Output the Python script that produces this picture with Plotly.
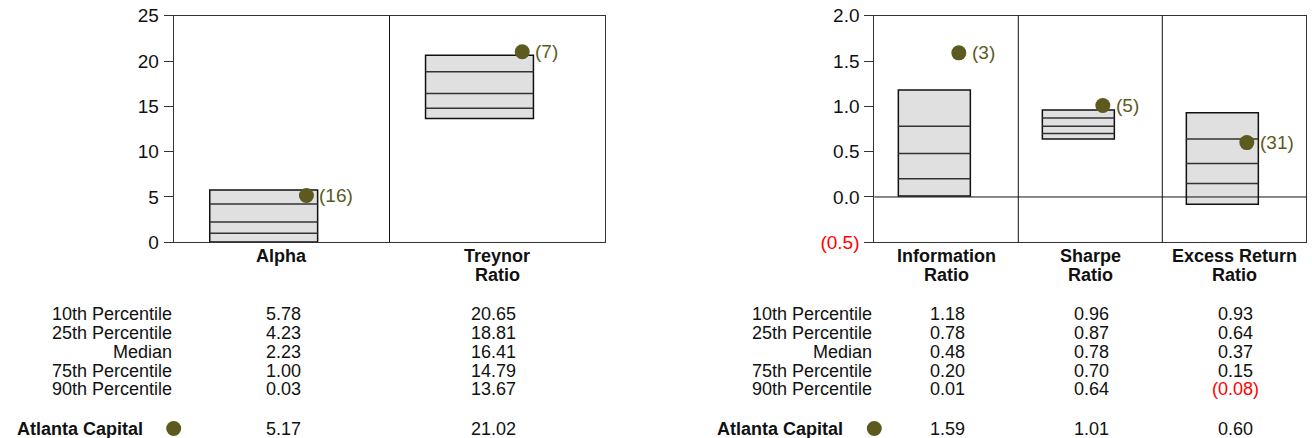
import plotly.graph_objects as go

# left panel
left_names = ["Alpha", "Treynor<br>Ratio"]
left_p10 = [5.78, 20.65]
left_p25 = [4.23, 18.81]
left_med = [2.23, 16.41]
left_p75 = [1.00, 14.79]
left_p90 = [0.03, 13.67]
left_fund = [5.17, 21.02]
left_rank = [16, 7]

# right panel
right_names = ["Information<br>Ratio", "Sharpe<br>Ratio", "Excess Return<br>Ratio"]
right_p10 = [1.18, 0.96, 0.93]
right_p25 = [0.78, 0.87, 0.64]
right_med = [0.48, 0.78, 0.37]
right_p75 = [0.20, 0.70, 0.15]
right_p90 = [0.01, 0.64, -0.08]
right_fund = [1.59, 1.01, 0.60]
right_rank = [3, 5, 31]

row_labels = ["10th Percentile", "25th Percentile", "Median", "75th Percentile", "90th Percentile"]
fund_name = "Atlanta Capital"

left_yticks = [0, 5, 10, 15, 20, 25]
right_yticks = [-0.5, 0.0, 0.5, 1.0, 1.5, 2.0]

W, H = 1312, 438
OLIVE = "#5c5a1e"
FONT = "Liberation Sans, Arial, sans-serif"
FS = 19      # axis ticks and rank labels
FS_T = 18    # table and category labels


def px_x(x):
    return x / W


def py(y):
    return 1 - y / H


L_DOM = [px_x(173.7), px_x(605.3)]
R_DOM = [px_x(874.3), px_x(1306.3)]
Y_DOM = [py(242.3), py(15.7)]
LABEL_Y = [256, 274.5]
ROW_Y = [314, 332.7, 351.7, 370.7, 389.3]
FUND_Y = 428.5


def fmt(v, nd=2):
    s = f"{abs(v):.{nd}f}"
    return f"({s})" if v < 0 else s


fig = go.Figure()
annotations = []
shapes = []


def panel(xa, ya, names, p10, p25, med, p75, p90, fund, rank, dot_off, dom):
    n = len(names)
    xs = list(range(n))
    fig.add_trace(go.Bar(
        x=xs, y=[a - b for a, b in zip(p10, p90)], base=p90,
        width=0.5, offset=-0.333,
        marker=dict(color="#e0e0e0", line=dict(color="#111", width=1.5)),
        xaxis=xa, yaxis=ya, hoverinfo="skip", showlegend=False))
    lx, ly = [], []
    for i in xs:
        for v in (p25[i], med[i], p75[i]):
            lx += [i - 0.333, i + 0.167, None]
            ly += [v, v, None]
    fig.add_trace(go.Scatter(
        x=lx, y=ly, mode="lines", line=dict(color="#333", width=1.5),
        xaxis=xa, yaxis=ya, hoverinfo="skip", showlegend=False))
    fig.add_trace(go.Scatter(
        x=[i + dot_off for i in xs], y=fund, mode="markers",
        marker=dict(color=OLIVE, size=15),
        xaxis=xa, yaxis=ya, hoverinfo="skip", showlegend=False))
    xr = "x" if xa == "x" else "x2"
    yr = "y" if ya == "y" else "y2"
    for i in xs:
        annotations.append(dict(
            x=i + dot_off, y=fund[i], xref=xr, yref=yr, text=f"({rank[i]})",
            showarrow=False, xanchor="left", xshift=11,
            font=dict(family=FONT, size=FS, color=OLIVE)))
    # category labels, one annotation per line
    for i, name in enumerate(names):
        for k, part in enumerate(name.split("<br>")):
            annotations.append(dict(
                x=i, y=py(LABEL_Y[k]), xref=xr, yref="paper", text=f"<b>{part}</b>",
                showarrow=False, xanchor="center", yanchor="middle",
                font=dict(family=FONT, size=FS_T, color="#111")))
    # dividers between categories
    for i in range(n - 1):
        shapes.append(dict(type="line", xref=xr, yref=yr + " domain",
                           x0=i + 0.5, x1=i + 0.5, y0=0, y1=1,
                           line=dict(color="#111", width=1)))
    # table
    for r, (lab, vals) in enumerate(zip(row_labels, [p10, p25, med, p75, p90])):
        yp = py(ROW_Y[r])
        annotations.append(dict(
            x=dom[0], y=yp, xref="paper", yref="paper", text=lab,
            showarrow=False, xanchor="right", yanchor="middle",
            font=dict(family=FONT, size=FS_T, color="#111")))
        for i in xs:
            v = vals[i]
            annotations.append(dict(
                x=i, y=yp, xref=xr, yref="paper", text=fmt(v),
                showarrow=False, xanchor="right", yanchor="middle",
                xshift=27 if v < 0 else 21,
                font=dict(family=FONT, size=FS_T, color="red" if v < 0 else "#111")))
    yp = py(FUND_Y)
    annotations.append(dict(
        x=dom[0], y=yp, xref="paper", yref="paper", text=f"<b>{fund_name}</b>",
        showarrow=False, xanchor="right", yanchor="middle", xshift=-29,
        font=dict(family=FONT, size=FS_T, color="#111")))
    shapes.append(dict(type="circle", xref="paper", yref="paper",
                       xsizemode="pixel", ysizemode="pixel",
                       xanchor=dom[0], yanchor=yp, x0=-7.5, x1=7.5, y0=-7.5, y1=7.5,
                       fillcolor=OLIVE, line=dict(width=0)))
    for i in xs:
        v = fund[i]
        annotations.append(dict(
            x=i, y=yp, xref=xr, yref="paper", text=fmt(v),
            showarrow=False, xanchor="right", yanchor="middle",
            xshift=27 if v < 0 else 21,
            font=dict(family=FONT, size=FS_T, color="red" if v < 0 else "#111")))


panel("x", "y", left_names, left_p10, left_p25, left_med, left_p75, left_p90,
      left_fund, left_rank, 0.115, L_DOM)
panel("x2", "y2", right_names, right_p10, right_p25, right_med, right_p75, right_p90,
      right_fund, right_rank, 0.087, R_DOM)

right_ticktext = [f'<span style="color:red">{fmt(v, 1)}</span>' if v < 0 else fmt(v, 1)
                  for v in right_yticks]

axis_common = dict(showline=True, linecolor="#333", linewidth=1, mirror=True,
                   showgrid=False, zeroline=False, automargin=False,
                   tickfont=dict(family=FONT, size=FS, color="#111"))

fig.update_layout(
    template="none",
    width=W, height=H,
    margin=dict(l=0, r=0, t=0, b=0, pad=0),
    plot_bgcolor="white", paper_bgcolor="white",
    font=dict(family=FONT, size=FS, color="#111"),
    barmode="overlay",
    xaxis=dict(domain=L_DOM, anchor="y", range=[-0.5, 1.5],
               showticklabels=False, ticks="", **axis_common),
    yaxis=dict(domain=Y_DOM, anchor="x", range=[0, 25],
               tickvals=left_yticks, ticks="outside", ticklen=9, tickcolor="#333",
               ticklabelstandoff=1, ticklabeloverflow="allow", **axis_common),
    xaxis2=dict(domain=R_DOM, anchor="y2", range=[-0.5, 2.5],
                showticklabels=False, ticks="", **axis_common),
    yaxis2=dict(domain=Y_DOM, anchor="x2", range=[-0.5, 2.0],
                tickvals=right_yticks, ticktext=right_ticktext,
                ticks="outside", ticklen=9, tickcolor="#333",
                ticklabelstandoff=1, ticklabeloverflow="allow", **axis_common),
    annotations=annotations,
    shapes=shapes,
)
fig.add_shape(type="line", xref="x2 domain", yref="y2", x0=0, x1=1, y0=0, y1=0,
              line=dict(color="#111", width=1))

# drop the default 8px page margin so the figure fills the window exactly
fig.write_html("out.html", config={"displayModeBar": False},
               post_script="document.body.style.margin='0';")
